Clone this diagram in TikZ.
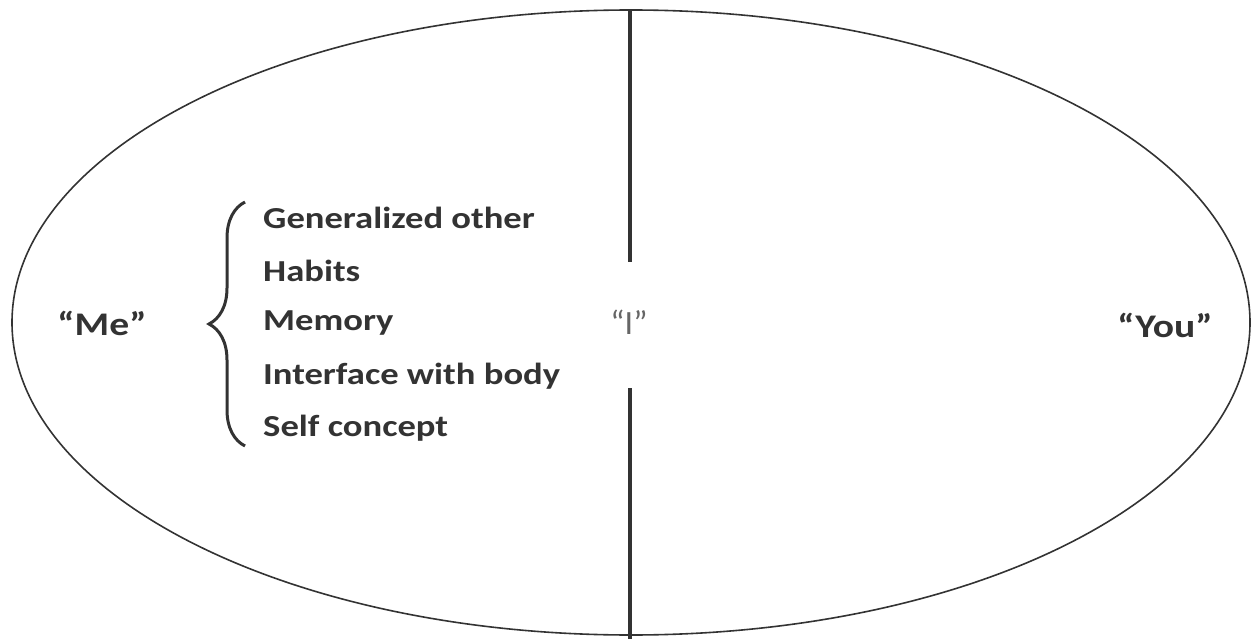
\documentclass[tikz,border=0pt]{standalone}
\usepackage{fontspec}
\setmainfont{Carlito}[FakeStretch=1.2]
\newfontfamily\thinfont{Carlito}
\usetikzlibrary{decorations.pathreplacing}
\definecolor{ink}{HTML}{333333}
\tikzset{
  item/.style={anchor=west, inner sep=0pt, font=\fontsize{30.5}{30}\selectfont\bfseries, text=ink},
  label/.style={inner sep=0pt, font=\fontsize{33}{33}\selectfont\bfseries, text=ink},
  divider/.style={line width=3.5pt, draw=ink},
}
\begin{document}
\begin{tikzpicture}[x=1pt,y=-1pt]
\useasboundingbox (0,0) rectangle (1253,639);
\draw[line width=1.6pt, draw=ink] (631,322.5) ellipse [x radius=619, y radius=312.5];
\coordinate (topA) at (630,10);
\coordinate (topB) at (630,262);
\coordinate (botA) at (630,388);
\coordinate (botB) at (630,639);
\draw[divider] (topA) -- (topB);
\draw[divider] (botA) -- (botB);
\node[label] (me) at (102,323) {“Me”};
\node[label] (you) at (1165,325) {“You”};
\node[inner sep=0pt, font=\thinfont\fontsize{34}{34}\selectfont, text=ink!75] (i) at (629,322) {“I”};
\node[item] (g) at (263,218) {Generalized other};
\node[item] (h) at (263,271) {Habits};
\node[item] (m) at (263,323) {Memory};
\node[item] (f) at (263,376) {Interface with body};
\node[item] (s) at (263,428) {Self concept};
\coordinate (bt) at (245,202);
\coordinate (bb) at (245,446);
\draw[ink, line width=3pt, decorate, decoration={brace, amplitude=36pt, aspect=0.5}] (bb) -- (bt);
\end{tikzpicture}
\end{document}
